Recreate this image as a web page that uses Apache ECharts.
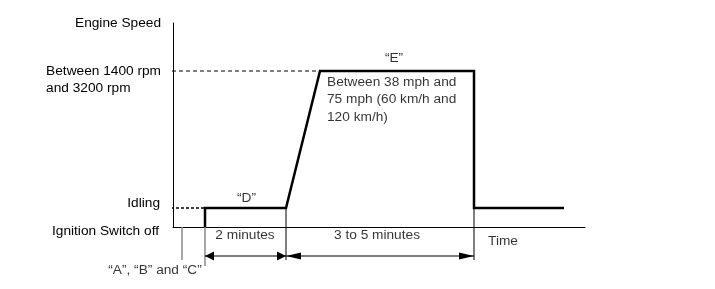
<!DOCTYPE html>
<html>
<head>
<meta charset="utf-8">
<script src="https://cdn.jsdelivr.net/npm/echarts@6/dist/echarts.min.js"></script>
<style>html,body{margin:0;padding:0;background:#fff}#c{width:715px;height:289px}</style>
</head>
<body>
<div id="c"></div>
<script>
// ---- data (time axis in arbitrary units, engine speed in arbitrary units) ----
const timeX       = [32, 32, 113, 147, 301, 301, 391];
const engineSpeed = [0, 19, 19, 156, 156, 19, 19];
const idleLevel = 19;
const highLevel = 156;
const yTickValues = [0, 19, 156, 204];
const yTickLabels = ['Ignition Switch off', 'Idling', 'Between 1400 rpm\nand 3200 rpm', 'Engine Speed'];
const eventX = [9, 32, 113, 301];          // "A/B/C", start of D, start of E, end of E
const phaseLabels = ['“D”', '“E”'];
const durationLabels = ['2 minutes', '3 to 5 minutes'];
const speedNote = 'Between 38 mph and\n75 mph (60 km/h and\n120 km/h)';
const eventLabel = '“A”, “B” and “C”';
const timeLabel = 'Time';

const FONT = 'Liberation Sans, Arial, sans-serif';
const FS = 13.7;

const chart = echarts.init(document.getElementById('c'), null, {renderer: 'canvas'});

function seg(points, style) {
  return {
    type: 'line', data: points, symbol: 'none', clip: false, silent: true,
    lineStyle: Object.assign({color: '#000', width: 1}, style), z: 2
  };
}
function arrow(x1, x2, y, w, h) {
  return {
    type: 'line', clip: false, silent: true, z: 3,
    data: [
      {value: [x1, y], symbolRotate: 90, symbolOffset: [h / 2, 0]},
      {value: [x2, y], symbolRotate: -90, symbolOffset: [-h / 2, 0]}
    ],
    symbol: 'triangle', symbolSize: [w, h], showSymbol: true,
    itemStyle: {color: '#000'},
    lineStyle: {color: '#000', width: 1.2}
  };
}

const profile = timeX.map((x, i) => [x, engineSpeed[i]]);
const belowY = -33;
const arrowY = -29;

const labelItems = [
  {name: phaseLabels[0], value: [(timeX[1] + timeX[2]) / 2 + 1, idleLevel + 10]},
  {name: phaseLabels[1], value: [(timeX[3] + timeX[4]) / 2 - 3, highLevel + 13]},
  {name: speedNote, value: [timeX[3] + 7, highLevel - 2],
   label: {align: 'left', verticalAlign: 'top', lineHeight: 17.5}},
  {name: durationLabels[0], value: [(timeX[1] + timeX[2]) / 2 - 0.5, -8]},
  {name: durationLabels[1], value: [(timeX[2] + timeX[4]) / 2 - 3, -8]},
  {name: timeLabel, value: [timeX[4] + 29, -14]},
  {name: eventLabel, value: [eventX[0] - 27, -43]}
];

const option = {
  animation: false,
  backgroundColor: '#fff',
  textStyle: {fontFamily: FONT},
  grid: {left: 173, right: 130, top: 23, bottom: 62, containLabel: false},
  xAxis: {
    type: 'value', min: 0, max: 412,
    axisLine: {show: true, onZero: false, lineStyle: {color: '#000', width: 1}},
    axisTick: {show: false}, axisLabel: {show: false}, splitLine: {show: false}
  },
  yAxis: {
    type: 'value', min: 0, max: 204,
    axisLine: {show: true, lineStyle: {color: '#000', width: 1}},
    axisTick: {show: false}, splitLine: {show: false},
    axisLabel: {
      show: true, customValues: yTickValues, margin: 12,
      color: '#000', fontSize: FS, fontFamily: FONT,
      formatter: function (v) {
        const i = yTickValues.indexOf(v);
        const t = yTickLabels[i];
        if (i === 2) {
          const lines = t.split('\n');
          return '{l| }\n{l|' + lines[0] + '}\n{l|' + lines[1] + '}';
        }
        if (i === 1) return '{up|' + t + '}';
        if (i === 0) return '{dn|' + t + '}';
        return '{n|' + t + '}';
      },
      rich: {
        n: {fontSize: FS, fontFamily: FONT, color: '#000'},
        l: {fontSize: FS, fontFamily: FONT, color: '#000', align: 'left', lineHeight: 17},
        up: {fontSize: FS, fontFamily: FONT, color: '#000', padding: [0, 1, 10, 0]},
        dn: {fontSize: FS, fontFamily: FONT, color: '#000', padding: [8, 2, 0, 0]}
      }
    }
  },
  series: [
    seg([[-8, highLevel], [timeX[3], highLevel]], {type: [4, 3]}),
    seg([[-7, idleLevel], [timeX[1], idleLevel]], {type: [3, 2], width: 1.3}),
    seg([[eventX[0], 0], [eventX[0], belowY]], {color: '#8a8a8a', width: 1.5}),
    seg([[eventX[1], 0], [eventX[1], belowY - 6]], {color: '#8a8a8a', width: 1.5}),
    seg([[eventX[2], idleLevel], [eventX[2], belowY]], {}),
    seg([[eventX[3], idleLevel], [eventX[3], belowY]], {}),
    arrow(eventX[1], eventX[2], arrowY, 9, 9),
    arrow(eventX[2], eventX[3], arrowY, 7, 15),
    {
      type: 'line', name: 'Engine Speed', data: profile, symbol: 'none', clip: false,
      lineStyle: {color: '#000', width: 2.5, join: 'miter'}, z: 5, silent: true
    },
    {
      type: 'scatter', data: labelItems, symbol: 'circle', symbolSize: 1, clip: false, silent: true, z: 6,
      itemStyle: {color: 'rgba(0,0,0,0)'},
      label: {show: true, position: 'inside', formatter: '{b}', color: '#000',
              fontSize: FS, fontFamily: FONT}
    }
  ]
};
chart.setOption(option);
</script>
</body>
</html>
